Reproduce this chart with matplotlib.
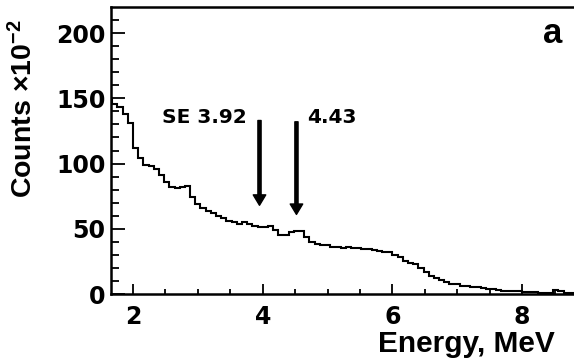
import numpy as np
import matplotlib
matplotlib.use("Agg")
import matplotlib.pyplot as plt

# ---- data ----
bin_low = 1.60
bin_width = 0.08
counts = [150, 146, 143, 138, 131, 112, 104, 99, 98, 96, 91, 86, 82, 81, 82, 83,
          74, 69, 66, 64, 62, 60, 58, 56, 55, 53.5, 55, 54, 52.5, 51.5, 51, 52,
          49, 45.5, 45, 47.5, 48, 48.5, 44, 40, 38, 37.5, 37.5, 36, 36, 35.5, 36,
          35.5, 35, 34.5, 34.5, 34, 33, 32.5, 32, 30, 28, 25.5, 23.5, 23, 20, 16.5,
          13.5, 12, 10.5, 9, 8, 7.5, 6.5, 6, 5.5, 5, 4.5, 4, 3.5, 3, 2.5, 2.3, 2.2,
          2, 1.6, 1.3, 1.2, 1.1, 1, 1, 3, 2.5, 1, 0.8, 0.8]
arrow_x = [3.95, 4.52]
arrow_top = [133, 132]
arrow_tip = [68, 61]
arrow_labels = ["SE 3.92", "4.43"]
xticks = [2, 4, 6, 8]
yticks = [0, 50, 100, 150, 200]

edges = bin_low + bin_width * np.arange(len(counts) + 1)

W, H = 574, 361
fig = plt.figure(figsize=(W / 100, H / 100), dpi=100)
ax = fig.add_axes([111 / W, (H - 294) / H, (W - 111) / W, (294 - 7) / H])

ax.stairs(counts, edges, baseline=None, color="black", lw=1.5)
ax.set_xlim(1.66, 8.80)
ax.set_ylim(0, 220)

ax.set_xticks(xticks)
ax.set_yticks(yticks)
ax.set_xticks(np.arange(2.5, 8.8, 0.5), minor=True)
ax.set_yticks(np.arange(10, 220, 10), minor=True)
ax.tick_params(axis="x", which="major", direction="in", length=7, width=1.3, pad=8)
ax.tick_params(axis="x", which="minor", direction="in", length=3.5, width=1.3)
ax.tick_params(axis="y", which="major", direction="in", length=10, width=1.3, pad=4)
ax.tick_params(axis="y", which="minor", direction="in", length=6, width=1.3)
for lab in ax.get_xticklabels() + ax.get_yticklabels():
    lab.set_fontfamily("DejaVu Sans")
    lab.set_fontweight("bold")
    lab.set_fontsize(17)

for s in ["left", "top", "bottom"]:
    ax.spines[s].set_linewidth(1.8)
ax.spines["right"].set_visible(False)

# arrows and labels
for xv, yt, yb in zip(arrow_x, arrow_top, arrow_tip):
    ax.annotate("", xy=(xv, yb), xytext=(xv, yt),
                arrowprops=dict(width=2.3, headwidth=9, headlength=7.5,
                                shrink=0, color="black"))
ax.text(3.76, 135, arrow_labels[0], ha="right", va="center",
        fontfamily="DejaVu Sans", fontweight="bold", fontsize=14.5)
ax.text(4.69, 135, arrow_labels[1], ha="left", va="center",
        fontfamily="DejaVu Sans", fontweight="bold", fontsize=14.5)

# panel letter
fig.text(553 / W, (H - 43) / H, "a", ha="center", va="baseline",
         fontfamily="Liberation Sans", fontweight="bold", fontsize=25)

# axis labels
plt.rcParams["mathtext.fontset"] = "custom"
plt.rcParams["mathtext.rm"] = "Liberation Sans:bold"
plt.rcParams["mathtext.it"] = "Liberation Sans:bold"
plt.rcParams["mathtext.bf"] = "Liberation Sans:bold"
plt.rcParams["mathtext.default"] = "rm"
fig.text(555 / W, (H - 352) / H, "Energy, MeV", ha="right", va="baseline",
         fontfamily="Liberation Sans", fontweight="bold", fontsize=21.5)
fig.text(24 / W, (H - 198) / H, "Counts ×10$^{-2}$", rotation=90,
         ha="center", va="bottom",
         fontfamily="Liberation Sans", fontweight="bold", fontsize=20.5)

fig.savefig("out.png", dpi=100)
